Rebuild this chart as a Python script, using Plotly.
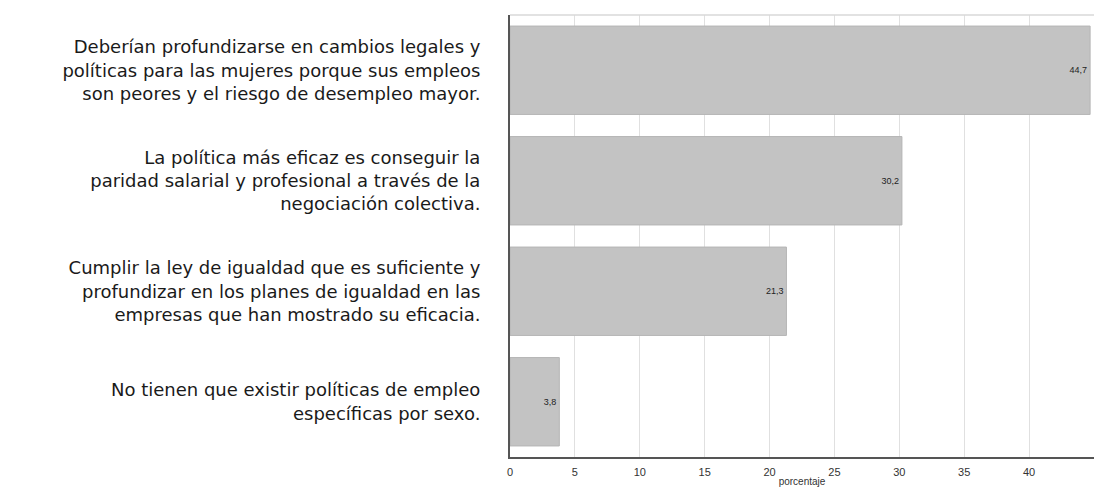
import plotly.graph_objects as go

categories = [
    "Deberían profundizarse en cambios legales y<br>políticas para las mujeres porque sus empleos<br>son peores y el riesgo de desempleo mayor.",
    "La política más eficaz es conseguir la<br>paridad salarial y profesional a través de la<br>negociación colectiva.",
    "Cumplir la ley de igualdad que es suficiente y<br>profundizar en los planes de igualdad en las<br>empresas que han mostrado su eficacia.",
    "No tienen que existir políticas de empleo<br>específicas por sexo.",
]
values = [44.7, 30.2, 21.3, 3.8]
value_labels = ["44,7", "30,2", "21,3", "3,8"]
x_ticks = [0, 5, 10, 15, 20, 25, 30, 35, 40, 45]

fig = go.Figure()
fig.add_trace(go.Bar(
    y=categories,
    x=values,
    orientation="h",
    width=0.8,
    marker=dict(color="#c3c3c3", line=dict(color="#b5b5b5", width=1)),
    text=value_labels,
    textposition="inside",
    insidetextanchor="end",
    constraintext="none",
    textfont=dict(family="Liberation Sans, Arial", size=9, color="#222222"),
    hoverinfo="skip",
))

fig.update_layout(
    width=1086,
    height=479,
    margin=dict(l=502, r=0, t=7, b=30),
    paper_bgcolor="white",
    plot_bgcolor="white",
    showlegend=False,
    shapes=[dict(type="line", xref="paper", yref="paper", x0=0, x1=1, y0=1, y1=1,
                 line=dict(color="#d9d9d9", width=1.5))],
)

fig.update_xaxes(
    range=[0, 45],
    tickvals=x_ticks,
    ticktext=[str(t) for t in x_ticks],
    showgrid=True,
    gridcolor="#e0e0e0",
    gridwidth=1,
    showline=True,
    linecolor="#555555",
    linewidth=2,
    zeroline=False,
    ticks="",
    ticklabelstandoff=4,
    tickfont=dict(family="Liberation Sans, Arial", size=11, color="#333333"),
    title=dict(text="porcentaje", font=dict(family="Liberation Sans, Arial", size=10, color="#333333"), standoff=2),
    automargin=False,
)

fig.update_yaxes(
    categoryorder="array",
    categoryarray=categories,
    autorange="reversed",
    showgrid=False,
    showline=True,
    linecolor="#555555",
    linewidth=2,
    ticks="",
    ticklabelstandoff=24,
    tickfont=dict(family="DejaVu Sans", size=18, color="#1a1a1a"),
    automargin=False,
)

fig.write_html("out.html")
